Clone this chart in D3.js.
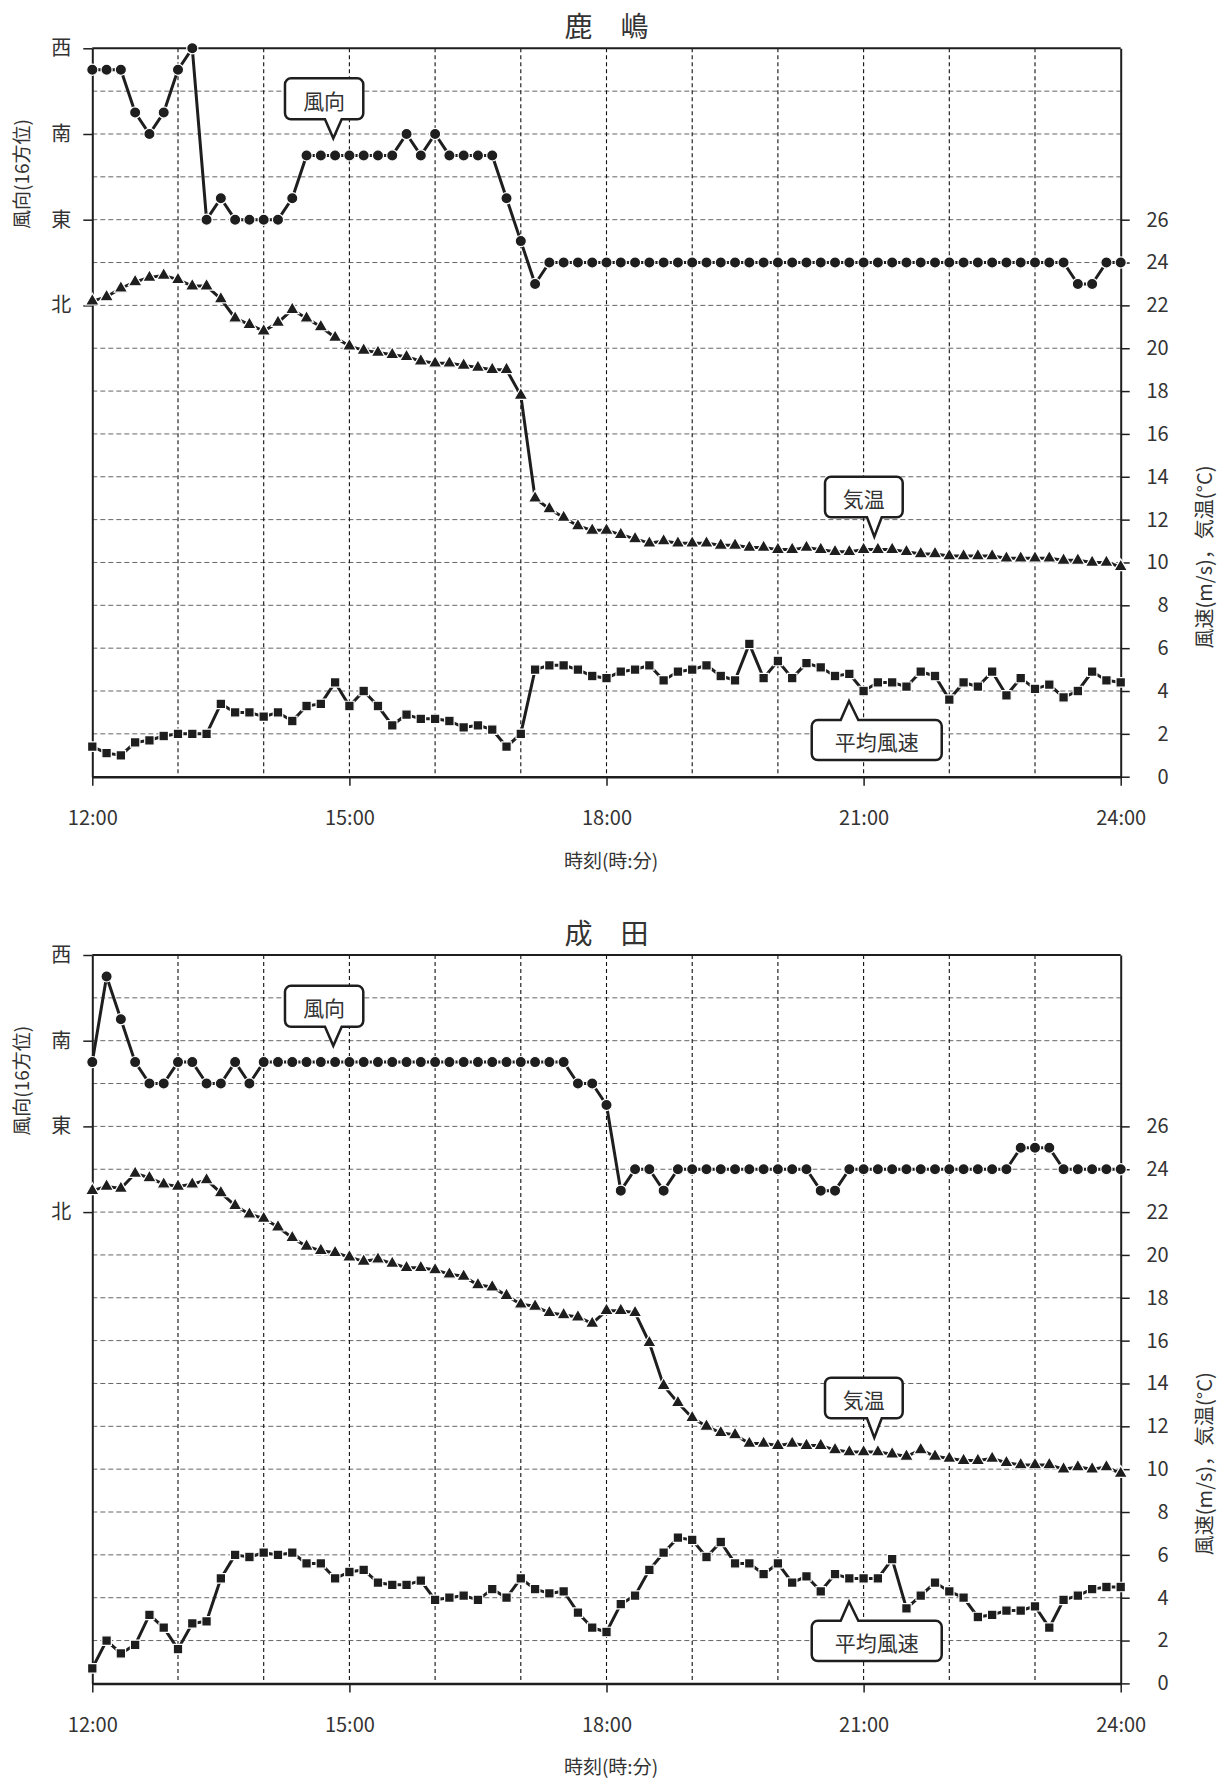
<!DOCTYPE html>
<html><head><meta charset="utf-8">
<script src="https://cdn.jsdelivr.net/npm/d3@7"></script>
<style>
body{margin:0;background:#fff;}
svg{display:block;font-family:"Noto Sans CJK JP","Noto Sans",sans-serif;}
</style></head><body>
<svg id="c" width="1225" height="1780"></svg>
<script>
// ---- categories / labels ----
const compass16 = ["N","NNE","NE","ENE","E","ESE","SE","SSE","S","SSW","SW","WSW","W"];
const hourTicks = [0,3,6,9,12];
const hourLabels = ["12:00","15:00","18:00","21:00","24:00"];
const dirTickIdx = [0,4,8,12];
const dirTickLabels = ["北","東","南","西"];
const rightTicks = [0,2,4,6,8,10,12,14,16,18,20,22,24,26];
const stepMinutes = 10;

// ---- 鹿嶋 ----
const kashimaDir = ["WSW","WSW","WSW","SSW","S","SSW","WSW","W","E","ESE",
 "E","E","E","E","ESE","SSE","SSE","SSE","SSE","SSE",
 "SSE","SSE","S","SSE","S","SSE","SSE","SSE","SSE","ESE",
 "ENE","NNE","NE","NE","NE","NE","NE","NE","NE","NE",
 "NE","NE","NE","NE","NE","NE","NE","NE","NE","NE",
 "NE","NE","NE","NE","NE","NE","NE","NE","NE","NE",
 "NE","NE","NE","NE","NE","NE","NE","NE","NE","NNE",
 "NNE","NE","NE"];
const kashimaTemp = [22.2,22.4,22.8,23.1,23.3,23.4,23.2,22.9,22.9,22.3,
 21.4,21.1,20.8,21.2,21.8,21.4,21.0,20.5,20.1,19.9,
 19.8,19.7,19.6,19.4,19.3,19.3,19.2,19.1,19.0,19.0,
 17.8,13.0,12.5,12.1,11.7,11.5,11.5,11.3,11.1,10.9,
 11.0,10.9,10.9,10.9,10.8,10.8,10.7,10.7,10.6,10.6,
 10.7,10.6,10.5,10.5,10.6,10.6,10.6,10.5,10.4,10.4,
 10.3,10.3,10.3,10.3,10.2,10.2,10.2,10.2,10.1,10.1,
 10.0,10.0,9.8];
const kashimaWind = [1.4,1.1,1.0,1.6,1.7,1.9,2.0,2.0,2.0,3.4,
 3.0,3.0,2.8,3.0,2.6,3.3,3.4,4.4,3.3,4.0,
 3.3,2.4,2.9,2.7,2.7,2.6,2.3,2.4,2.2,1.4,
 2.0,5.0,5.2,5.2,5.0,4.7,4.6,4.9,5.0,5.2,
 4.5,4.9,5.0,5.2,4.7,4.5,6.2,4.6,5.4,4.6,
 5.3,5.1,4.7,4.8,4.0,4.4,4.4,4.2,4.9,4.7,
 3.6,4.4,4.2,4.9,3.8,4.6,4.1,4.3,3.7,4.0,
 4.9,4.5,4.4];

// ---- 成田 ----
const naritaDir = ["SSE","WSW","SSW","SSE","SE","SE","SSE","SSE","SE","SE",
 "SSE","SE","SSE","SSE","SSE","SSE","SSE","SSE","SSE","SSE",
 "SSE","SSE","SSE","SSE","SSE","SSE","SSE","SSE","SSE","SSE",
 "SSE","SSE","SSE","SSE","SE","SE","ESE","NNE","NE","NE",
 "NNE","NE","NE","NE","NE","NE","NE","NE","NE","NE",
 "NE","NNE","NNE","NE","NE","NE","NE","NE","NE","NE",
 "NE","NE","NE","NE","NE","ENE","ENE","ENE","NE","NE",
 "NE","NE","NE"];
const naritaTemp = [23.0,23.2,23.1,23.8,23.6,23.3,23.2,23.3,23.5,22.9,
 22.3,21.9,21.7,21.3,20.8,20.4,20.2,20.1,19.9,19.7,
 19.8,19.6,19.4,19.4,19.3,19.1,19.0,18.6,18.5,18.1,
 17.7,17.6,17.3,17.2,17.1,16.8,17.4,17.4,17.3,15.9,
 13.9,13.1,12.4,12.0,11.7,11.6,11.2,11.2,11.1,11.2,
 11.1,11.1,10.9,10.8,10.8,10.8,10.7,10.6,10.9,10.6,
 10.5,10.4,10.4,10.5,10.3,10.2,10.2,10.2,10.0,10.1,
 10.0,10.1,9.8];
const naritaWind = [0.7,2.0,1.4,1.8,3.2,2.6,1.6,2.8,2.9,4.9,
 6.0,5.9,6.1,6.0,6.1,5.6,5.6,4.9,5.2,5.3,
 4.7,4.6,4.6,4.8,3.9,4.0,4.1,3.9,4.4,4.0,
 4.9,4.4,4.2,4.3,3.3,2.6,2.4,3.7,4.1,5.3,
 6.1,6.8,6.7,5.9,6.6,5.6,5.6,5.1,5.6,4.7,
 5.0,4.3,5.1,4.9,4.9,4.9,5.8,3.5,4.1,4.7,
 4.3,4.0,3.1,3.2,3.4,3.4,3.6,2.6,3.9,4.1,
 4.4,4.5,4.5];

const svg = d3.select("#c");
const L = 92.3, R = 1120.7, T = 48.3, B = 776.7;
const INK = "#1e1e1e", TXT = "#333";

function calloutPath(x0,y0,x1,y1,r,side,bx0,bx1,tx,ty){
  const p = d3.path();
  p.moveTo(x0+r,y0);
  if(side==="top"){ p.lineTo(bx0,y0); p.lineTo(tx,ty); p.lineTo(bx1,y0); }
  p.lineTo(x1-r,y0); p.arcTo(x1,y0,x1,y0+r,r);
  p.lineTo(x1,y1-r); p.arcTo(x1,y1,x1-r,y1,r);
  if(side==="bottom"){ p.lineTo(bx1,y1); p.lineTo(tx,ty); p.lineTo(bx0,y1); }
  p.lineTo(x0+r,y1); p.arcTo(x0,y1,x0,y1-r,r);
  p.lineTo(x0,y0+r); p.arcTo(x0,y0,x0+r,y0,r);
  p.closePath();
  return p.toString();
}

function drawChart(oy, title, dir, temp, wind, notes){
  const g = svg.append("g").attr("transform",`translate(0,${oy})`);
  const x = d3.scaleLinear().domain([0,12]).range([L,R]);
  const y = d3.scaleLinear().domain([0,34]).range([B,T]);
  const yd = d3.scaleLinear().domain([-22,12]).range([B,T]);
  const xi = i => x(i*stepMinutes/60);

  // grid
  g.append("g").selectAll("line").data(d3.range(2,34,2)).join("line")
    .attr("x1",L).attr("x2",R).attr("y1",d=>y(d)).attr("y2",d=>y(d))
    .attr("stroke","#666").attr("stroke-width",1).attr("stroke-dasharray","5,3");
  g.append("g").selectAll("line").data(d3.range(1,12)).join("line")
    .attr("x1",d=>x(d)).attr("x2",d=>x(d)).attr("y1",T).attr("y2",B)
    .attr("stroke","#111").attr("stroke-width",1.1).attr("stroke-dasharray","4,3");

  // top border
  g.append("line").attr("x1",L).attr("x2",R).attr("y1",T).attr("y2",T)
    .attr("stroke",INK).attr("stroke-width",2);

  // axes
  const ax1 = g.append("g").attr("transform",`translate(${L},0)`)
    .call(d3.axisLeft(yd).tickValues(dirTickIdx).tickFormat((d,i)=>dirTickLabels[i])
      .tickSize(9).tickSizeOuter(0).tickPadding(12));
  const ax2 = g.append("g").attr("transform",`translate(${R},0)`)
    .call(d3.axisRight(y).tickValues(rightTicks).tickSize(9).tickSizeOuter(0));
  ax2.selectAll("text").attr("text-anchor","end").attr("x",48);
  const ax3 = g.append("g").attr("transform",`translate(0,${B})`)
    .call(d3.axisBottom(x).tickValues(hourTicks).tickFormat((d,i)=>hourLabels[i])
      .tickSize(9).tickSizeOuter(0).tickPadding(25));
  [ax1,ax2,ax3].forEach(a=>{
    a.attr("font-family",null).attr("font-size",null);
    a.selectAll("path.domain").attr("stroke",INK).attr("stroke-width",2);
    a.selectAll(".tick line").attr("stroke",INK).attr("stroke-width",1.5);
    a.selectAll("text").attr("fill",TXT).style("font-size","20px");
  });
  ax3.selectAll("path.domain").attr("stroke-width",2.5);

  // titles
  g.append("text").attr("x",(L+R)/2).attr("y",25).attr("text-anchor","middle")
    .attr("dominant-baseline","central").attr("fill",TXT).style("font-size","28px").text(title);
  g.append("text").attr("transform","translate(20,174) rotate(-90)").attr("text-anchor","middle")
    .attr("dominant-baseline","central").attr("fill",TXT).style("font-size","19px").text("風向(16方位)");
  g.append("text").attr("transform","translate(1203,557) rotate(-90)").attr("text-anchor","middle")
    .attr("dominant-baseline","central").attr("fill",TXT).style("font-size","20px").text("風速(m/s)，気温(°C)");
  g.append("text").attr("x",611).attr("y",859).attr("text-anchor","middle")
    .attr("dominant-baseline","central").attr("fill",TXT).style("font-size","19px").text("時刻(時:分)");

  // series
  const lineStyle = sel => sel.attr("fill","none").attr("stroke",INK).attr("stroke-width",3).attr("stroke-linejoin","round");
  // wind direction
  const dirY = d => yd(compass16.indexOf(d));
  g.append("path").datum(dir).attr("d",d3.line().x((d,i)=>xi(i)).y(dirY)).call(lineStyle);
  g.append("g").selectAll("circle").data(dir).join("circle")
    .attr("cx",(d,i)=>xi(i)).attr("cy",dirY).attr("r",5.6)
    .attr("fill",INK).attr("stroke","#fff").attr("stroke-width",1.2);
  // temperature
  g.append("path").datum(temp).attr("d",d3.line().x((d,i)=>xi(i)).y(d=>y(d))).call(lineStyle);
  const tri = d3.symbol().type(d3.symbolTriangle).size(80);
  g.append("g").selectAll("path").data(temp).join("path")
    .attr("transform",(d,i)=>`translate(${xi(i)},${y(d)})`).attr("d",tri)
    .attr("fill",INK).attr("stroke","#fff").attr("stroke-width",1.2);
  // wind speed
  g.append("path").datum(wind).attr("d",d3.line().x((d,i)=>xi(i)).y(d=>y(d))).call(lineStyle);
  const sq = d3.symbol().type(d3.symbolSquare).size(90);
  g.append("g").selectAll("path").data(wind).join("path")
    .attr("transform",(d,i)=>`translate(${xi(i)},${y(d)})`).attr("d",sq)
    .attr("fill",INK).attr("stroke","#fff").attr("stroke-width",1.2);

  // callouts
  notes.forEach(n=>{
    const tx = x(n.hour), ty = y(n.value);
    const x0 = tx+n.box[0], x1 = tx+n.box[1], y0 = ty+n.box[2], y1 = ty+n.box[3];
    g.append("path").attr("d",calloutPath(x0,y0,x1,y1,6,n.side,tx+n.base[0],tx+n.base[1],tx,ty))
      .attr("fill","#fff").attr("stroke",INK).attr("stroke-width",2.5).attr("stroke-linejoin","miter");
    g.append("text").attr("x",(x0+x1)/2).attr("y",(y0+y1)/2+1).attr("text-anchor","middle")
      .attr("dominant-baseline","central").attr("fill",TXT).style("font-size","21px").text(n.text);
  });
}

drawChart(0, "鹿　嶋", kashimaDir, kashimaTemp, kashimaWind, [
  {text:"風向", hour:2.812, value:29.80, box:[-48.3,30,-60,-19], base:[-8.3,8.4], side:"bottom"},
  {text:"気温", hour:9.125, value:11.20, box:[-49.3,28.4,-60,-19.4], base:[-7.3,7.4], side:"bottom"},
  {text:"平均風速", hour:8.83, value:3.53, box:[-37.3,92.7,19,59], base:[-8.3,9.3], side:"top"}
]);
drawChart(906.7, "成　田", naritaDir, naritaTemp, naritaWind, [
  {text:"風向", hour:2.812, value:29.76, box:[-48.3,30,-60,-19], base:[-8.3,8.4], side:"bottom"},
  {text:"気温", hour:9.125, value:11.47, box:[-49.3,28.4,-60,-19.4], base:[-7.3,7.4], side:"bottom"},
  {text:"平均風速", hour:8.83, value:3.81, box:[-37.3,92.7,19,59.3], base:[-8.3,9.3], side:"top"}
]);
</script>
</body></html>
